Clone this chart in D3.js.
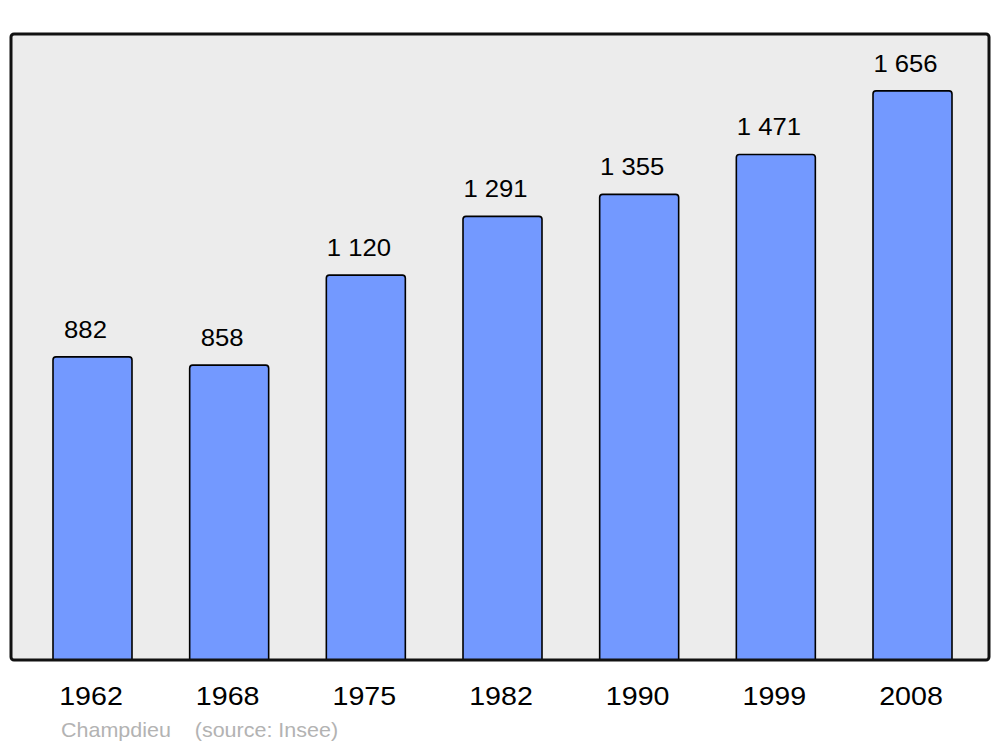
<!DOCTYPE html>
<html><head><meta charset="utf-8">
<script src="https://cdn.jsdelivr.net/npm/d3@7"></script>
<style>body{margin:0;background:#fff}svg{display:block}</style>
</head><body>
<script>
const years = ["1962","1968","1975","1982","1990","1999","2008"];
const population = [882, 858, 1120, 1291, 1355, 1471, 1656];
const labels = ["882","858","1 120","1 291","1 355","1 471","1 656"];
const footer = "Champdieu\u00a0\u00a0\u00a0\u00a0(source: Insee)";

const W = 1000, H = 747;
const FONT = "Liberation Sans, Arial, sans-serif";
const svg = d3.select("body").append("svg").attr("width", W).attr("height", H);
const frame = {x0: 11, x1: 989, y0: 34, y1: 660};

const x = d3.scaleBand().domain(years).range([53, 952]).paddingInner(0.422).paddingOuter(0);
const y = d3.scaleLinear().domain([0, 1656 * 1.1]).range([frame.y1, frame.y0]);

svg.append("rect").attr("x", frame.x0).attr("y", frame.y0)
  .attr("width", frame.x1 - frame.x0).attr("height", frame.y1 - frame.y0)
  .attr("rx", 3).attr("fill", "#ececec");

const g = svg.append("g");
years.forEach((yr, i) => {
  const bx = x(yr), bw = x.bandwidth(), top = y(population[i]), bot = y(0);
  const r = 3;
  g.append("path")
    .attr("d", `M${bx},${bot} L${bx},${top + r} Q${bx},${top} ${bx + r},${top} L${bx + bw - r},${top} Q${bx + bw},${top} ${bx + bw},${top + r} L${bx + bw},${bot}`)
    .attr("fill", "#7399ff").attr("stroke", "#000").attr("stroke-width", 1.6);
  g.append("text")
    .attr("transform", `translate(${bx + bw / 2 - 7},${top - 19}) scale(1.07,1)`)
    .attr("text-anchor", "middle").attr("font-family", FONT)
    .attr("font-size", 24).attr("fill", "#000").text(labels[i]);
  g.append("text")
    .attr("transform", `translate(${bx + bw / 2 - 1.5},705) scale(1.08,1)`)
    .attr("text-anchor", "middle").attr("font-family", FONT)
    .attr("font-size", 26.5).attr("fill", "#000").text(yr);
});

svg.append("rect").attr("x", frame.x0).attr("y", frame.y0)
  .attr("width", frame.x1 - frame.x0).attr("height", frame.y1 - frame.y0)
  .attr("rx", 3).attr("fill", "none").attr("stroke", "#111").attr("stroke-width", 3);

svg.append("text")
  .attr("transform", "translate(61,737) scale(1.075,1)")
  .attr("font-family", FONT).attr("font-size", 20)
  .attr("fill", "#b3b3b3").text(footer);
</script>
</body></html>
